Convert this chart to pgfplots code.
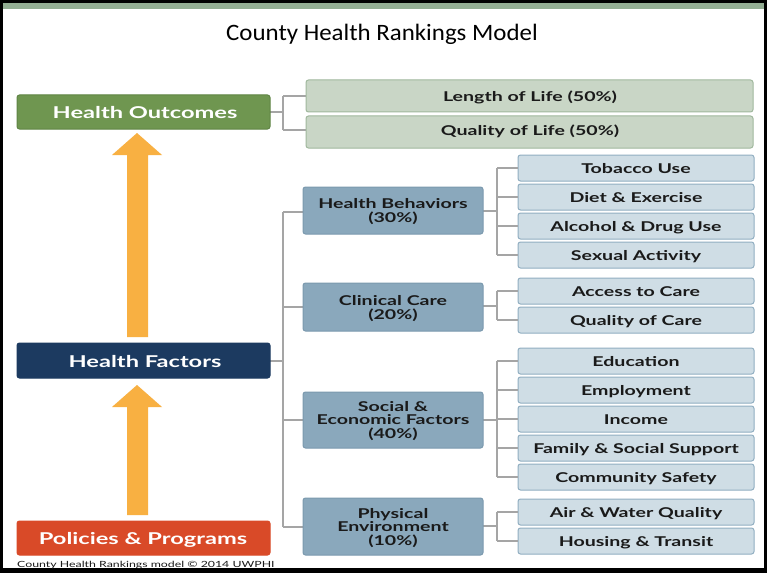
\documentclass[border=0pt]{standalone}
\usepackage{pgfplots}
\pgfplotsset{compat=1.18}
\usepackage{fontspec}
\setmainfont{Lato}
\newfontfamily\bx{Lato}[FakeStretch=1.45]
\newfontfamily\ttl{Carlito}[FakeStretch=1.06]
\definecolor{gbar}{HTML}{93AE93}
\definecolor{hofill}{HTML}{6F9650}
\definecolor{hodraw}{HTML}{5F8444}
\definecolor{lfill}{HTML}{C9D6C6}
\definecolor{ldraw}{HTML}{A0B89D}
\definecolor{hffill}{HTML}{1C3A60}
\definecolor{ppfill}{HTML}{D94A28}
\definecolor{arrowc}{HTML}{F8B042}
\definecolor{mfill}{HTML}{8AA8BC}
\definecolor{mdraw}{HTML}{7B99AE}
\definecolor{sfill}{HTML}{CFDDE5}
\definecolor{sdraw}{HTML}{91AEC1}
\definecolor{conn}{HTML}{A5A5A5}
\definecolor{txt}{HTML}{1A1A1A}
\tikzset{bigt/.style={font=\bx\bfseries\fontsize{16.3bp}{18bp}\selectfont,text=white,anchor=base,inner sep=0pt},
  smt/.style={font=\bx\bfseries\fontsize{13.5bp}{14bp}\selectfont,text=txt,anchor=base,inner sep=0pt}}
\newcommand{\cbox}[6]{\draw[draw=#6,fill=#5,rounded corners=2.5bp,line width=1bp] (#1,#2) rectangle (#3,#4);}
\newcommand{\sub}[2]{\cbox{518}{#1-13}{754}{#1+13}{sfill}{sdraw}
  \draw[conn,line width=1.2bp] (497,#1) -- (518,#1);
  \node[smt] at (636,#1+5) {#2};}
\newcommand{\midbox}[2]{\cbox{303}{#1}{483}{#2}{mfill}{mdraw}}
\begin{document}
\begin{tikzpicture}
\begin{axis}[
  width=767bp, height=573bp, scale only axis,
  xmin=0, xmax=767, ymin=0, ymax=573, y dir=reverse,
  axis lines=none, clip=false,
]
% frame
\fill[black] (0,0) rectangle (767,573);
\fill[white] (3,3) rectangle (764,568);
\fill[gbar] (3,3) rectangle (764,9);
% title
\node[font=\ttl\fontsize{23.5bp}{26bp}\selectfont,text=black,anchor=base,inner sep=0pt] at (382,41) {County Health Rankings Model};
% arrows
\fill[arrowc] (127,337) -- (127,155) -- (112,155) -- (137,133) -- (162,155) -- (148,155) -- (148,337) -- cycle;
\fill[arrowc] (127,515) -- (127,407) -- (112,407) -- (137,385) -- (162,407) -- (148,407) -- (148,515) -- cycle;
% connectors
\draw[conn,line width=1.2bp] (270,112) -- (283,112) (283,96) -- (283,130) (283,96) -- (306,96) (283,130) -- (306,130);
\draw[conn,line width=1.2bp] (270,361) -- (283,361) (283,212) -- (283,527);
\draw[conn,line width=1.2bp] (283,212) -- (303,212) (283,307) -- (303,307) (283,420) -- (303,420) (283,527) -- (303,527);
\draw[conn,line width=1.2bp] (483,211) -- (497,211) (497,168) -- (497,255);
\draw[conn,line width=1.2bp] (483,306) -- (497,306) (497,291) -- (497,320);
\draw[conn,line width=1.2bp] (483,420) -- (497,420) (497,361) -- (497,477);
\draw[conn,line width=1.2bp] (483,526) -- (497,526) (497,512) -- (497,541);
% left boxes
\cbox{17}{95}{270}{129}{hofill}{hodraw}
\node[bigt] at (145,118) {Health Outcomes};
\cbox{17}{343}{270}{378}{hffill}{hffill}
\node[bigt] at (145,367) {Health Factors};
\cbox{17}{521}{270}{555}{ppfill}{ppfill}
\node[bigt] at (143,544) {Policies \& Programs};
% outcomes
\cbox{306}{80}{753}{112}{lfill}{ldraw}
\node[smt] at (530,101) {Length of Life (50\%)};
\cbox{306}{116}{753}{148}{lfill}{ldraw}
\node[smt] at (530,135) {Quality of Life (50\%)};
% middle boxes
\midbox{187}{234}
\node[smt] at (393,208) {Health Behaviors};
\node[smt] at (393,222.5) {(30\%)};
\midbox{283}{331}
\node[smt] at (393,305) {Clinical Care};
\node[smt] at (393,319.5) {(20\%)};
\midbox{392}{448}
\node[smt] at (393,411) {Social \&};
\node[smt] at (393,424.5) {Economic Factors};
\node[smt] at (393,438) {(40\%)};
\midbox{498}{555}
\node[smt] at (393,518) {Physical};
\node[smt] at (393,531.5) {Environment};
\node[smt] at (393,545) {(10\%)};
% sub boxes
\sub{168}{Tobacco Use}
\sub{197}{Diet \& Exercise}
\sub{226}{Alcohol \& Drug Use}
\sub{255}{Sexual Activity}
\sub{291}{Access to Care}
\sub{320}{Quality of Care}
\sub{361}{Education}
\sub{390}{Employment}
\sub{419}{Income}
\sub{448}{Family \& Social Support}
\sub{477}{Community Safety}
\sub{512}{Air \& Water Quality}
\sub{541}{Housing \& Transit}
% footer
\node[font=\bx\fontsize{8.5bp}{9bp}\selectfont,text=txt,anchor=base west,inner sep=0pt] at (17,567) {County Health Rankings model \textcopyright{} 2014 UWPHI};
\end{axis}
\end{tikzpicture}
\end{document}
